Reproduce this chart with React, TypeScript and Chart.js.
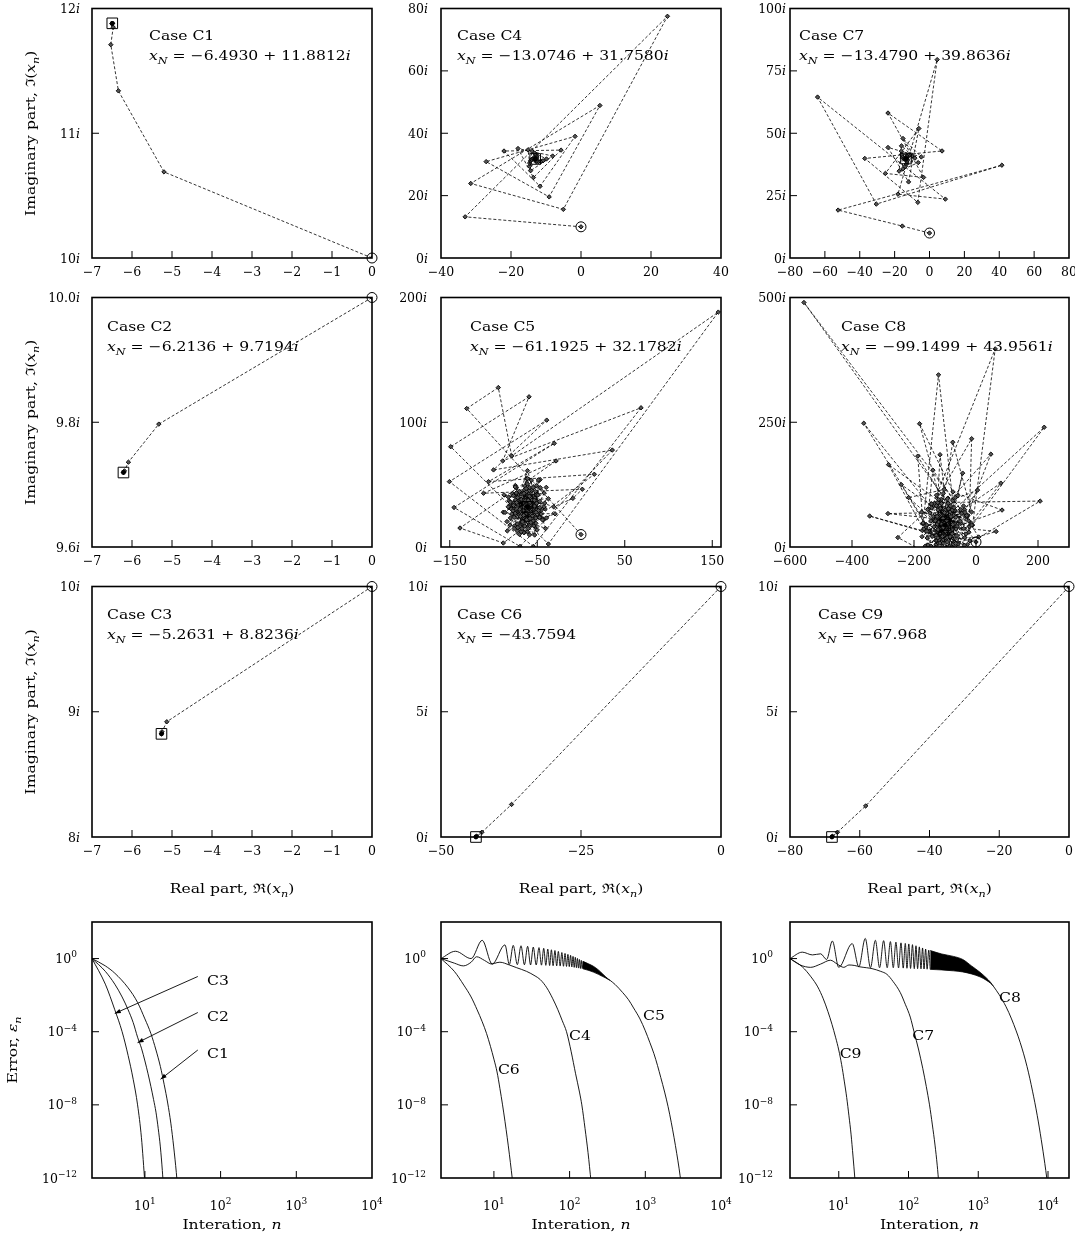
import React, { useEffect, useRef } from 'react';
import { Chart, registerables } from 'chart.js';
Chart.register(...registerables);

// ---------------- DATA ----------------
// Trajectories: [real part, imaginary part]
const C1_PTS = [[0, 10], [-5.2, 10.69], [-6.34, 11.34], [-6.53, 11.71], [-6.47, 11.85], [-6.5, 11.876], [-6.492, 11.882], [-6.4935, 11.881], [-6.493, 11.8812]];
const C2_PTS = [[0, 10], [-5.33, 9.797], [-6.09, 9.736], [-6.19, 9.722], [-6.21, 9.7198], [-6.2136, 9.7194]];
const C3_PTS = [[0, 10], [-5.13, 8.92], [-5.25, 8.84], [-5.262, 8.825], [-5.2631, 8.8236]];
const C4_PTS = [[0, 10], [-33.1, 13.2], [24.7, 77.5], [-5.05, 15.6], [-31.5, 23.9], [5.4, 48.9], [-9.1, 19.6], [-27.1, 30.9], [-1.7, 39.0], [-11.7, 23.0], [-22.0, 34.3], [-5.7, 34.6], [-13.6, 25.8], [-18.0, 35.1], [-8.1, 32.7], [-14.4, 28.0], [-15.13, 34.71], [-9.87, 31.76], [-14.73, 29.38], [-13.96, 34.2], [-10.85, 31.16], [-14.68, 30.41], [-13.24, 33.65], [-11.6, 30.91], [-14.43, 31.13], [-12.84, 33.09], [-12.22, 30.91], [-14.1, 31.58], [-12.67, 32.62], [-12.65, 31.02], [-13.82, 31.83], [-12.65, 32.26], [-12.93, 31.23], [-13.49, 31.91], [-12.78, 31.96], [-13.07, 31.51], [-13.19, 31.85], [-13.0746, 31.758]];
const C5_PTS = [[0, 10],
  [-130.6, 111], [-94.5, 127.8], [-79.2, 73], [156.9, 188.3], [-37.3, 2.4],
  [-148.9, 80.4], [-59.4, 120.4], [-89.5, 69], [68.6, 111.6], [-54.5, 0.5],
  [-150.4, 52.4], [-39.2, 101.7], [-100, 61.8], [35.8, 77.7], [-69.7, 0.5],
  [-145.1, 31.7], [-30.5, 83.1], [-105.7, 52.4], [15.2, 58.3], [-88.8, 3.2],
  [-138.3, 15.2], [-28.5, 69], [-111.4, 43.1], [1.5, 46.3], [-9.3, 39],
  [-31.2, 32.2], [-74.5, 42.8], [-58.9, 9.7], [-53.9, 40.5], [-88.8, 27.9], [-42.6, 21.9], [-63.3, 38.9], [-72.7, 12.9], [-47.1, 36.6], [-88, 41.8],
  [-52.7, 16.4], [-58.2, 40.5], [-84.6, 20.4], [-45.6, 29.2], [-75, 49.3], [-62, 27], [-39.7, 47.8], [-80.2, 32.9], [-52, 24.2], [-62.3, 54.8],
  [-76, 16.9], [-52.3, 33.2], [-78.4, 42.7], [-57.5, 17.7], [-46.7, 54], [-71.7, 29.3], [-39.4, 23.3], [-66.6, 43.4], [-70.4, 10.1], [-55, 35],
  [-82.4, 37.1], [-51.5, 19], [-56.8, 53.6], [-70.7, 25.8], [-41.3, 30.7], [-64.6, 35.4], [-61.2, 12.2], [-51.1, 41.8], [-80.1, 30.7], [-53.3, 26.9],
  [-29.7, 26.6], [-84.2, 12.9], [-61.2, 61.2], [-40.5, 14.8], [-86.8, 27.7], [-48.7, 53.8], [-53.0, 9.6], [-82.8, 40.0], [-42.1, 43.2], [-64.8, 11.5], [-74.0, 47.5], [-42.2, 32.2], [-72.8, 18.4], [-64.1, 48.9], [-47.3, 24.2], [-75.3, 27.0], [-56.4, 45.3], [-54.7, 20.9], [-73.0, 34.3], [-52.8, 39.2], [-61.2, 22.2], [-68.2, 38.1], [-52.9, 33.6], [-65.0, 25.5], [-63.6, 38.8],
  [-61.2, 54.8], [-51.7, 23.2], [-81.1, 33.7], [-54.8, 36.4], [-65.4, 11.6], [-70.3, 44.6], [-50.6, 29.7], [-80.7, 23.3], [-59.5, 36.3], [-53.9, 16.9],
  [-73, 37], [-37.3, 38.7], [-65.7, 25.4], [-64.6, 45.8], [-44, 21.7], [-68.1, 31.4], [-46.4, 47.5], [-60.7, 21.7], [-73.9, 43.3], [-57.2, 32],
  [-81.1, 17.6], [-59.2, 45.1], [-55.5, 25.1], [-80.7, 35.9], [-56, 34.8], [-68.4, 12.3], [-66.7, 42.4], [-45.5, 26.5], [-69.6, 29.5], [-51, 49.2],
  [-58.3, 22.9], [-77.2, 41.1], [-56.3, 32.9], [-76.4, 14.9], [-62.4, 44.3], [-55.3, 27.5], [-82.2, 32.2], [-49.4, 41.6], [-62.2, 21.8], [-75.2, 48.1],
  [-54.3, 31.1], [-76.4, 23.8], [-58.6, 40.6], [-50.1, 13.7], [-75.3, 36.6], [-55.6, 34.2], [-69.7, 16.4], [-65.1, 43], [-53.4, 28.3], [-77.8, 29],
  [-83.2, 32.2], [-56.8, 28.7], [-62.7, 46.9], [-68.5, 23.9], [-41.5, 35.2], [-64.6, 34.1], [-57.3, 19.6], [-57.0, 39.1], [-79.1, 26.5], [-49.2, 27.8],
  [-64.2, 37.7], [-67.5, 14.8], [-51.7, 37], [-76.8, 35.2], [-59.5, 30.0], [-58.8, 47.7], [-68.9, 26.6], [-47.2, 31.6], [-64.7, 35.3], [-60.3, 14.8],
  [-56.0, 37.5], [-73.1, 30.8], [-47.3, 23.7], [-62.5, 37.3], [-72.2, 15.6], [-50.7, 35.1], [-74.8, 37.7], [-59.7, 29.0], [-54.7, 47.7], [-69.2, 28.6],
  [-48.6, 29.2], [-65.0, 37.3], [-64.3, 16.8], [-53.3, 37.5], [-77.1, 33.4], [-59.2, 30.3], [-61.2, 50.5], [-69.3, 24.5], [-53.2, 32.8], [-72.3, 39.6],
  [-60.3, 27.9], [-52.1, 44.6], [-69.9, 30.2], [-51.4, 27.8], [-63.2, 37.1], [-66.9, 20.1], [-57.6, 33.7], [-73.6, 35.6], [-57.7, 26.9], [-59.0, 40.7],
  [-55.2, 30.0], [-66.2, 29.3], [-60.3, 37.4], [-58.1, 28.5], [-65.5, 32.2], [-58.7, 35.2], [-60.6, 28.7], [-63.9, 33.7], [-58.6, 33.1], [-62.0, 29.8], [-62.3, 34.1], [-59.3, 31.8], [-62.4, 31.1], [-61.2, 33.5], [-60.4, 31.5], [-62.0, 32.0], [-60.9, 32.7], [-61.05, 31.8], [-61.38, 32.25], [-61.1925, 32.1782]];
const C6_PTS = [[0, 10], [-37.4, 1.3], [-42.7, 0.19], [-43.6, 0.03], [-43.75, 0.005], [-43.7594, 0]];
const C7_PTS = [[0, 10], [-15.6, 12.8], [-52.4, 19.2], [41.5, 37.2], [-30.5, 21.6], [-64.2, 64.5], [9.1, 23.6], [-18.1, 25.6], [4.4, 79.5], [-6.7, 22.3], [-37.1, 39.9], [7.2, 42.9], [-23.8, 58.1], [-3.4, 32.3], [-25.3, 33.9], [-6.1, 51.9], [-12, 30.5], [-23.8, 44.3], [-4.7, 40.5], [-15.2, 47.9], [-6.46, 38.24], [-17.42, 34.82], [-16.07, 44.94], [-8.38, 40.04], [-15.24, 35.72], [-16.16, 42.83], [-10.04, 40.91], [-13.93, 36.69], [-15.83, 41.39], [-11.36, 41.18], [-13.21, 37.68], [-15.29, 40.45], [-12.32, 41.1], [-12.92, 38.47], [-14.78, 39.93], [-12.96, 40.83], [-12.91, 39.1], [-14.26, 39.69], [-13.33, 40.49], [-13.09, 39.55], [-13.84, 39.68], [-13.49, 40.16], [-13.3, 39.78], [-13.479, 39.8636]];
const C8_PTS = [[0, 10],
  [-555, 490], [-11, 44], [62, 397], [-143.2, 78.5], [-362, 248], [-92, -23.7], [220, 240], [-71.6, 74.3], [-121, 345], [-172.9, 32.9],
  [-343, 62], [-27.3, 5.2], [207, 92], [-113.2, 89.2], [-282, 165], [-131.3, -8.8], [-75, 210], [-14.4, 70.2], [-284, 67], [-136, 57],
  [48, 186], [-71.5, -6], [-182, 247], [-74.3, 110.5], [84, 74], [-142.3, 22.7], [-241, 125], [-22.9, 29.7], [-14, 217], [-134.6, 87.2],
  [-252, 19], [-110.3, -28.4], [80, 128], [-72.2, 63.1], [-188, 182], [-170.9, 46.7], [65, 31], [-58, 9.1], [-217, 99], [-102.7, 115.3],
  [-116, 185], [-129.9, 12.7], [8.5, 20], [-23.7, 52.5], [-139, 154], [-153.1, 76.2], [5, 114], [-92.5, 19.1], [-43, 148], [-59, 102.9],
  [-150.5, 30.2], [-19.3, 12.4], [-115.1, 77], [-122.9, -11.9], [-45.8, 67.6], [-123.2, 49.5], [-59.3, -9], [-90, 87.5], [-164, 1.6], [-61.2, 41.2],
  [-145, 86.6], [-99, -29.1], [-67.9, 72.8], [-162.7, 39.3], [-37.1, 3.6], [-104.6, 70.8], [-129.1, 3.9], [-29.4, 59.9], [-138, 61.3], [-70.3, -23.1],
  [-75.3, 92.7], [-117.1, 36.8], [-32.2, 26.1], [-124, 80.8], [-106.8, 14.1],
  [-159, 44], [-76.9, 26.8], [-105.5, 107.5], [-126.4, 13.7], [-79.3, 47], [-156.3, 75], [-85.5, 1.3], [-82.8, 70.4], [-174.2, 20.7], [-75.9, 35.9],
  [-123.5, 88.7], [-111.6, 9.9], [-36.6, 74.6], [-113.6, 46.8], [-70.3, 9.2], [-90.6, 97.9], [-128.1, 23.2], [-21.1, 41.1], [-118.8, 60.8], [-96.6, -2.7],
  [-69.4, 74], [-168.4, 36.2], [-81, 33.3], [-112.4, 95.4], [-119, 14.6], [-26.5, 63.4], [-128.9, 55.9], [-77.2, -0.8], [-82.6, 82.4], [-157.5, 18.1],
  [-81.6, 40], [-128, 82.7], [-106.7, 7.2], [-40.3, 82.3], [-124.9, 45.9], [-58.4, 6.4], [-99, 74.6], [-145, 1.4], [-49.2, 47.7], [-122.8, 59.5],
  [-86.5, -16.3], [-76.4, 74.1], [-153.1, 31.7], [-77.7, 34.6], [-120.9, 95.1], [-116.6, 7.9], [-35.6, 69.2], [-131.4, 52.7], [-73, 5.7], [-90.4, 77.2],
  [-14, 44], [-175.4, 70], [-42.7, -2.6], [-127.6, 103.8], [-101.7, -18.3], [-66.9, 99.1], [-154.7, 3.9], [-29.9, 63], [-170.9, 48], [-36.6, 18.6], [-143.4, 86.3], [-79.4, -7.2], [-92.1, 96.5], [-130, -0.8], [-49.4, 75], [-157.9, 31.4], [-39.6, 37.3], [-148.7, 67.9], [-65.5, 7.1], [-111.4, 86.9], [-108.4, 1.4], [-70.7, 78.9], [-141.3, 21.2], [-50.9, 51.5], [-145.9, 52], [-61.3, 22.9], [-122.9, 74.5], [-92.3, 10], [-88.8, 76.6], [-123.1, 18.4], [-65.2, 59.6], [-135.7, 40.4], [-64.4, 36.1], [-125.4, 61.1], [-83.5, 20.7], [-101.7, 68.7], [-108.3, 21.2], [-80.6, 60.9], [-122.4, 34.9], [-75, 45], [-119.7, 50], [-84.4, 33.1], [-106.3, 57.2], [-98.7, 32], [-94.5, 52.9], [-105.4, 38.9], [-93.4, 45.8], [-102, 44], [-99.1499, 43.9561]];
const C9_PTS = [[0, 10], [-58.3, 1.24], [-66.4, 0.19], [-67.8, 0.03], [-67.95, 0.005], [-67.968, 0]];

// Error curves: [iteration n, log10(error)]
const E_C1 = [[2, 0], [3, -0.4], [4, -0.8], [6, -1.6], [8, -2.4], [10, -3.3], [12, -4.1], [14, -5.0], [16, -5.9], [18, -6.9], [20, -7.9], [22, -9.0], [24, -10.3], [26, -11.7], [27, -12.5]];
const E_C2 = [[2, 0], [3, -0.7], [4, -1.4], [5, -2.1], [6, -2.8], [7, -3.5], [8, -4.3], [9, -4.9], [10, -5.6], [11, -6.3], [12, -7.0], [13, -7.7], [14, -8.4], [15, -9.3], [16, -10.3], [17, -11.6], [17.5, -12.4]];
const E_C3 = [[2, 0], [3, -1.4], [4, -2.8], [5, -4.0], [6, -5.3], [7, -6.6], [8, -8.0], [9, -9.8], [10, -12.3]];
const E_C4 = [[2, 0], [3, -0.25], [3.95, -0.4], [5, -0.2], [5.9, 0.1], [7.5, -0.1], [9.35, -0.3], [11, -0.22], [12, -0.2], [16, -0.35], [20, -0.5], [27, -0.7], [35, -0.95], [41, -1.15], [50, -1.6], [60, -2.2], [70, -2.8], [80, -3.4], [91, -4.0], [105, -5.1], [120, -6.3], [135, -7.3], [145, -8.0], [160, -9.3], [175, -10.6], [192, -12.2]];
const E_C5_OSC = [[2, 0], [3.1, 0.4], [5, 0.0], [7, 1.0], [9.5, -0.3], [14, 0.75], [16, -0.32], [18, 0.72], [20.4, -0.33], [22.8, 0.7], [25.3, -0.34], [27.9, 0.67], [30.5, -0.35], [33.1, 0.63], [36.2, -0.35], [39.4, 0.6], [42.5, -0.36], [45.5, 0.56], [48.5, -0.37], [51.5, 0.52], [54.5, -0.38], [57.5, 0.48], [60.5, -0.39], [64, 0.44], [67.5, -0.4], [71, 0.39], [75, -0.41], [79, 0.33], [83, -0.42], [87, 0.28], [91, -0.43], [95, 0.23], [99, -0.44], [103, 0.18], [107, -0.46], [111, 0.12], [115, -0.48], [119, 0.07], [123, -0.5], [127, 0.01], [131, -0.52], [135, -0.05], [139, -0.54], [143, -0.1], [147, -0.55], [150, -0.15]];
const E_C5_BAND_HI = [[150, -0.15], [180, -0.3], [206, -0.42], [240, -0.62], [270, -0.82], [300, -1.0], [320, -1.1], [345, -1.2]];
const E_C5_BAND_LO = [[150, -0.56], [180, -0.65], [206, -0.74], [240, -0.86], [270, -0.97], [300, -1.06], [320, -1.13], [345, -1.2]];
const E_C5_TAIL = [[345, -1.2], [400, -1.42], [500, -1.85], [600, -2.25], [700, -2.7], [850, -3.3], [1000, -3.95], [1150, -4.6], [1300, -5.2], [1450, -5.85], [1600, -6.5], [1800, -7.3], [2000, -8.1], [2200, -8.95], [2400, -9.8], [2600, -10.65], [2800, -11.5], [2950, -12.2]];
const E_C6 = [[2, 0], [3, -0.7], [4, -1.45], [5, -2.1], [6, -2.8], [7, -3.45], [8, -4.1], [9, -4.8], [10, -5.5], [11, -6.2], [12, -7.1], [13, -8.0], [14, -8.9], [15, -9.8], [16, -10.7], [17, -11.6], [18, -12.5]];
const E_C7 = [[2, 0], [2.8, -0.35], [3.95, -0.48], [5.5, -0.3], [7.6, -0.09], [9.5, -0.3], [11.8, -0.48], [14, -0.35], [17, -0.38], [20, -0.45], [25, -0.5], [30, -0.55], [40, -0.7], [49, -0.86], [60, -1.25], [76, -1.85], [90, -2.5], [106, -3.2], [120, -4.0], [140, -5.0], [160, -6.0], [180, -7.0], [200, -8.0], [220, -9.1], [240, -10.2], [258, -11.3], [272, -12.3]];
const E_C8_OSC = [[2, 0], [3, 0.35], [4.2, 0.2], [5.5, 0.26], [6.7, -0.05], [8.1, 0.96], [10, -0.48], [15.6, 0.82], [19.4, -0.45], [24, 1.1], [28.5, -0.5], [33.5, 1.0], [38.5, -0.5], [44, 0.98], [49.5, -0.5], [55, 0.93], [60.5, -0.5], [66, 0.9], [72, -0.51], [78, 0.86], [84, -0.52], [90, 0.83], [95, -0.53], [101, 0.8], [107, -0.54], [114, 0.76], [121, -0.55], [128, 0.7], [135, -0.55], [143, 0.64], [151, -0.56], [159, 0.58], [167, -0.57], [176, 0.52], [185, -0.58], [195, 0.46], [205, -0.59]];
const E_C8_BAND_HI = [[205, 0.44], [300, 0.25], [440, 0.12], [600, -0.05], [800, -0.4], [1060, -0.75], [1300, -1.05], [1500, -1.3], [1640, -1.5]];
const E_C8_BAND_LO = [[205, -0.59], [300, -0.62], [440, -0.67], [600, -0.73], [800, -0.84], [1060, -1.0], [1300, -1.18], [1500, -1.35], [1640, -1.5]];
const E_C8_TAIL = [[1640, -1.5], [2000, -1.98], [2500, -2.63], [3000, -3.3], [4000, -4.6], [5000, -5.9], [6000, -7.25], [7000, -8.57], [8000, -9.9], [9000, -11.2], [9600, -12.0], [10000, -12.5]];
const E_C9 = [[2, 0], [3, -0.45], [4, -1.0], [5, -1.55], [6, -2.2], [7, -2.9], [8, -3.6], [9, -4.3], [10, -5.0], [11, -5.8], [12, -6.7], [13, -7.6], [14, -8.6], [15, -9.6], [16, -10.8], [17, -12.0], [18, -13.2]];

// Tick values / labels
const X_TICKS_C123 = [-7, -6, -5, -4, -3, -2, -1, 0];
const X_TICKS_C4 = [-40, -20, 0, 20, 40];
const X_TICKS_C5 = [-150, -50, 50, 150];
const X_TICKS_C6 = [-50, -25, 0];
const X_TICKS_C7 = [-80, -60, -40, -20, 0, 20, 40, 60, 80];
const X_TICKS_C8 = [-600, -400, -200, 0, 200];
const X_TICKS_C9 = [-80, -60, -40, -20, 0];
const Y_TICKS_C1 = [10, 11, 12];
const Y_TICKS_C2 = [9.6, 9.8, 10.0];
const Y_LABELS_C2 = ['9.6', '9.8', '10.0'];
const Y_TICKS_C3 = [8, 9, 10];
const Y_TICKS_C4 = [0, 20, 40, 60, 80];
const Y_TICKS_C5 = [0, 100, 200];
const Y_TICKS_C69 = [0, 5, 10];
const Y_TICKS_C7 = [0, 25, 50, 75, 100];
const Y_TICKS_C8 = [0, 250, 500];
const ERR_X_TICKS = [10, 100, 1000, 10000];
const ERR_X_EXP = ['1', '2', '3', '4'];
const ERR_Y_TICKS = [1, 1e-4, 1e-8, 1e-12];
const ERR_Y_EXP = ['0', '−4', '−8', '−12'];

// ---------------- LAYOUT ----------------
const PLOT_LEFT = [92, 441, 790];
const PLOT_W = [280, 280, 279];
const ROW_TOP = [8, 297, 586, 922];
const ROW_H = [250, 250, 251, 256];
const PADL = 92, PADT = 8, PADR = 24, PADB = 64;

const FONT = '"DejaVu Serif", "Liberation Serif", serif';
const TICK_SIZE = 12.5;
const TEXT_SIZE = 13;
const TEXT_SX = 1.2;

type Seg = { t: string; it?: boolean; sub?: boolean; sup?: boolean };

function segFont(s: Seg, size: number) {
  const sz = s.sub || s.sup ? size * 0.72 : size;
  return `${s.it ? 'italic ' : ''}${sz}px ${FONT}`;
}
function richWidth(ctx: any, segs: Seg[], size: number) {
  let w = 0;
  for (const s of segs) { ctx.font = segFont(s, size); w += ctx.measureText(s.t).width; }
  return w;
}
function drawRich(ctx: any, segs: Seg[], x: number, y: number, size: number, align: string, sx = 1, rot = 0) {
  ctx.save();
  ctx.translate(x, y);
  if (rot) ctx.rotate(rot);
  ctx.scale(sx, 1);
  const w = richWidth(ctx, segs, size);
  let cx = align === 'left' ? 0 : align === 'center' ? -w / 2 : -w;
  const base = size * 0.36;
  ctx.textBaseline = 'alphabetic';
  ctx.textAlign = 'left';
  ctx.fillStyle = '#000';
  for (const s of segs) {
    ctx.font = segFont(s, size);
    const dy = s.sub ? size * 0.3 : s.sup ? -size * 0.45 : 0;
    ctx.fillText(s.t, cx, base + dy);
    cx += ctx.measureText(s.t).width;
  }
  ctx.restore();
}

const plain = (s: string): Seg[] => [{ t: s }];
const imag = (s: string): Seg[] => [{ t: s }, { t: 'i', it: true }];
const pow10 = (e: string): Seg[] => [{ t: '10' }, { t: e, sup: true }];
const fmtMinus = (v: number) => (v < 0 ? '−' + Math.abs(v) : String(v));
const xN = (val: string, imPart?: string): Seg[] => {
  const s: Seg[] = [{ t: 'x', it: true }, { t: 'N', it: true, sub: true }, { t: ' = ' + val }];
  if (imPart) { s.push({ t: ' + ' + imPart }); s.push({ t: 'i', it: true }); }
  return s;
};

const Y_TITLE: Seg[] = [{ t: 'Imaginary part, ' }, { t: 'ℑ' }, { t: '(' }, { t: 'x', it: true }, { t: 'n', it: true, sub: true }, { t: ')' }];
const X_TITLE: Seg[] = [{ t: 'Real part, ' }, { t: 'ℜ' }, { t: '(' }, { t: 'x', it: true }, { t: 'n', it: true, sub: true }, { t: ')' }];
const E_Y_TITLE: Seg[] = [{ t: 'Error, ' }, { t: 'ε', it: true }, { t: 'n', it: true, sub: true }];
const E_X_TITLE: Seg[] = [{ t: 'Interation, ' }, { t: 'n', it: true }];

function trajSets(arr: number[][]) {
  const p = arr.map(([x, y]) => ({ x, y }));
  const first = p[0], last = p[p.length - 1];
  return [
    { data: [last], showLine: false, pointStyle: 'rect', pointRadius: 7.5, pointBorderWidth: 1, pointBorderColor: '#000', pointBackgroundColor: 'rgba(0,0,0,0)', clip: false },
    { data: [last], showLine: false, pointStyle: 'circle', pointRadius: 2.4, pointBorderWidth: 0, pointBackgroundColor: '#000', clip: false },
    { data: [first], showLine: false, pointStyle: 'circle', pointRadius: 5, pointBorderWidth: 1, pointBorderColor: '#000', pointBackgroundColor: 'rgba(0,0,0,0)', clip: false },
    { data: p, showLine: true, borderColor: '#000', borderWidth: 0.8, borderDash: [3, 2], pointStyle: 'rectRot', pointRadius: 2.2, pointBorderWidth: 0.9, pointBorderColor: '#000', pointBackgroundColor: '#555', tension: 0 },
  ];
}
const toErr = (arr: number[][]) => arr.map(([n, lg]) => ({ x: n, y: Math.pow(10, lg) }));
function errSet(arr: number[][]) {
  return { data: toErr(arr), showLine: true, borderColor: '#000', borderWidth: 0.9, pointRadius: 0, cubicInterpolationMode: 'monotone', fill: false };
}
// dense oscillation band: upper edge filled down to the lower edge
function bandSets(hi: number[][], lo: number[][]) {
  return [
    { data: toErr(hi), showLine: true, borderColor: '#000', borderWidth: 0.8, pointRadius: 0, cubicInterpolationMode: 'monotone', fill: '+1', backgroundColor: '#000' },
    { data: toErr(lo), showLine: true, borderColor: '#000', borderWidth: 0.8, pointRadius: 0, cubicInterpolationMode: 'monotone', fill: false },
  ];
}

interface Panel {
  key: string; col: number; row: number; log?: boolean;
  x: [number, number]; y: [number, number];
  xTicks: number[]; xLabels: Seg[][]; yTicks: number[]; yLabels: Seg[][];
  xGap: number; yGap: number;
  datasets: any[];
  notes?: { segs: Seg[]; dx: number; dy: number }[];
  dnotes?: { segs: Seg[]; n: number; lg: number }[];
  arrows?: { n1: number; lg1: number; n2: number; lg2: number }[];
  yTitle?: Seg[]; yTitleDx?: number; xTitle?: Seg[]; xTitleDy?: number;
}

const trajNotes = (name: string, val: Seg[], dx: number, dy: number) => [
  { segs: plain('Case ' + name), dx, dy },
  { segs: val, dx, dy: dy + 20 },
];

const PANELS: Panel[] = [
  { key: 'C1', col: 0, row: 0, x: [-7, 0], y: [10, 12], xTicks: X_TICKS_C123, xLabels: X_TICKS_C123.map((v) => plain(fmtMinus(v))), yTicks: Y_TICKS_C1, yLabels: Y_TICKS_C1.map((v) => imag(String(v))), xGap: 13, yGap: 12, datasets: trajSets(C1_PTS), notes: trajNotes('C1', xN('−6.4930', '11.8812'), 57, 27), yTitle: Y_TITLE, yTitleDx: 62 },
  { key: 'C4', col: 1, row: 0, x: [-40, 40], y: [0, 80], xTicks: X_TICKS_C4, xLabels: X_TICKS_C4.map((v) => plain(fmtMinus(v))), yTicks: Y_TICKS_C4, yLabels: Y_TICKS_C4.map((v) => imag(String(v))), xGap: 13, yGap: 13, datasets: trajSets(C4_PTS), notes: trajNotes('C4', xN('−13.0746', '31.7580'), 16, 27) },
  { key: 'C7', col: 2, row: 0, x: [-80, 80], y: [0, 100], xTicks: X_TICKS_C7, xLabels: X_TICKS_C7.map((v) => plain(fmtMinus(v))), yTicks: Y_TICKS_C7, yLabels: Y_TICKS_C7.map((v) => imag(String(v))), xGap: 13, yGap: 4, datasets: trajSets(C7_PTS), notes: trajNotes('C7', xN('−13.4790', '39.8636'), 9, 27) },
  { key: 'C2', col: 0, row: 1, x: [-7, 0], y: [9.6, 10.0], xTicks: X_TICKS_C123, xLabels: X_TICKS_C123.map((v) => plain(fmtMinus(v))), yTicks: Y_TICKS_C2, yLabels: Y_LABELS_C2.map((s) => imag(s)), xGap: 13, yGap: 12, datasets: trajSets(C2_PTS), notes: trajNotes('C2', xN('−6.2136', '9.7194'), 15, 28.7), yTitle: Y_TITLE, yTitleDx: 62 },
  { key: 'C5', col: 1, row: 1, x: [-160, 160], y: [0, 200], xTicks: X_TICKS_C5, xLabels: X_TICKS_C5.map((v) => plain(fmtMinus(v))), yTicks: Y_TICKS_C5, yLabels: Y_TICKS_C5.map((v) => imag(String(v))), xGap: 13, yGap: 14, datasets: trajSets(C5_PTS), notes: trajNotes('C5', xN('−61.1925', '32.1782'), 29, 28.7) },
  { key: 'C8', col: 2, row: 1, x: [-600, 300], y: [0, 500], xTicks: X_TICKS_C8, xLabels: X_TICKS_C8.map((v) => plain(fmtMinus(v))), yTicks: Y_TICKS_C8, yLabels: Y_TICKS_C8.map((v) => imag(String(v))), xGap: 13, yGap: 4, datasets: trajSets(C8_PTS), notes: trajNotes('C8', xN('−99.1499', '43.9561'), 51, 28.7) },
  { key: 'C3', col: 0, row: 2, x: [-7, 0], y: [8, 10], xTicks: X_TICKS_C123, xLabels: X_TICKS_C123.map((v) => plain(fmtMinus(v))), yTicks: Y_TICKS_C3, yLabels: Y_TICKS_C3.map((v) => imag(String(v))), xGap: 13, yGap: 12, datasets: trajSets(C3_PTS), notes: trajNotes('C3', xN('−5.2631', '8.8236'), 15, 28), yTitle: Y_TITLE, yTitleDx: 62, xTitle: X_TITLE, xTitleDy: 51 },
  { key: 'C6', col: 1, row: 2, x: [-50, 0], y: [0, 10], xTicks: X_TICKS_C6, xLabels: X_TICKS_C6.map((v) => plain(fmtMinus(v))), yTicks: Y_TICKS_C69, yLabels: Y_TICKS_C69.map((v) => imag(String(v))), xGap: 13, yGap: 13, datasets: trajSets(C6_PTS), notes: trajNotes('C6', xN('−43.7594'), 16, 28), xTitle: X_TITLE, xTitleDy: 51 },
  { key: 'C9', col: 2, row: 2, x: [-80, 0], y: [0, 10], xTicks: X_TICKS_C9, xLabels: X_TICKS_C9.map((v) => plain(fmtMinus(v))), yTicks: Y_TICKS_C69, yLabels: Y_TICKS_C69.map((v) => imag(String(v))), xGap: 13, yGap: 12, datasets: trajSets(C9_PTS), notes: trajNotes('C9', xN('−67.968'), 28, 28), xTitle: X_TITLE, xTitleDy: 51 },
  { key: 'E1', col: 0, row: 3, log: true, x: [2, 10000], y: [1e-12, 100], xTicks: ERR_X_TICKS, xLabels: ERR_X_EXP.map(pow10), yTicks: ERR_Y_TICKS, yLabels: ERR_Y_EXP.map(pow10), xGap: 27, yGap: 15, datasets: [errSet(E_C1), errSet(E_C2), errSet(E_C3)], dnotes: [{ segs: plain('C3'), n: 66, lg: -1.19 }, { segs: plain('C2'), n: 66, lg: -3.15 }, { segs: plain('C1'), n: 66, lg: -5.18 }], arrows: [{ n1: 50, lg1: -0.98, n2: 4.0, lg2: -3.0 }, { n1: 50, lg1: -2.95, n2: 8.0, lg2: -4.6 }, { n1: 50, lg1: -5.0, n2: 16.1, lg2: -6.6 }], yTitle: E_Y_TITLE, yTitleDx: 80, xTitle: E_X_TITLE, xTitleDy: 46 },
  { key: 'E2', col: 1, row: 3, log: true, x: [2, 10000], y: [1e-12, 100], xTicks: ERR_X_TICKS, xLabels: ERR_X_EXP.map(pow10), yTicks: ERR_Y_TICKS, yLabels: ERR_Y_EXP.map(pow10), xGap: 27, yGap: 15, datasets: [...bandSets(E_C5_BAND_HI, E_C5_BAND_LO), errSet(E_C5_OSC), errSet(E_C5_TAIL), errSet(E_C4), errSet(E_C6)], dnotes: [{ segs: plain('C6'), n: 11.3, lg: -6.08 }, { segs: plain('C4'), n: 98, lg: -4.18 }, { segs: plain('C5'), n: 931, lg: -3.09 }], xTitle: E_X_TITLE, xTitleDy: 46 },
  { key: 'E3', col: 2, row: 3, log: true, x: [2, 20000], y: [1e-12, 100], xTicks: ERR_X_TICKS, xLabels: ERR_X_EXP.map(pow10), yTicks: ERR_Y_TICKS, yLabels: ERR_Y_EXP.map(pow10), xGap: 27, yGap: 17, datasets: [...bandSets(E_C8_BAND_HI, E_C8_BAND_LO), errSet(E_C8_OSC), errSet(E_C8_TAIL), errSet(E_C7), errSet(E_C9)], dnotes: [{ segs: plain('C9'), n: 10.3, lg: -5.17 }, { segs: plain('C7'), n: 113, lg: -4.18 }, { segs: plain('C8'), n: 1980, lg: -2.14 }], xTitle: E_X_TITLE, xTitleDy: 46 },
];

function makeDecor(p: Panel) {
  return {
    id: 'decor' + p.key,
    afterDatasetsDraw(chart: any) {
      const ctx = chart.ctx;
      const { left, right, top, bottom } = chart.chartArea;
      const xs = chart.scales.x, ys = chart.scales.y;
      ctx.save();
      ctx.setLineDash([]);
      ctx.strokeStyle = '#000';
      ctx.lineWidth = 1.6;
      ctx.strokeRect(left, top, right - left, bottom - top);
      ctx.lineWidth = 1;
      ctx.beginPath();
      p.xTicks.forEach((v) => {
        const x = xs.getPixelForValue(v);
        if (x > left + 2 && x < right - 2) { ctx.moveTo(x, bottom); ctx.lineTo(x, bottom - 7); }
      });
      p.yTicks.forEach((v) => {
        const y = ys.getPixelForValue(v);
        if (y > top + 2 && y < bottom - 2) { ctx.moveTo(left, y); ctx.lineTo(left + 7, y); }
      });
      ctx.stroke();
      p.xTicks.forEach((v, i) => drawRich(ctx, p.xLabels[i], xs.getPixelForValue(v), bottom + p.xGap, TICK_SIZE, 'center'));
      p.yTicks.forEach((v, i) => drawRich(ctx, p.yLabels[i], left - p.yGap, ys.getPixelForValue(v), TICK_SIZE, 'right'));
      (p.notes || []).forEach((n) => drawRich(ctx, n.segs, left + n.dx, top + n.dy, TEXT_SIZE, 'left', TEXT_SX));
      (p.dnotes || []).forEach((n) => drawRich(ctx, n.segs, xs.getPixelForValue(n.n), ys.getPixelForValue(Math.pow(10, n.lg)), TEXT_SIZE, 'left', TEXT_SX));
      (p.arrows || []).forEach((a) => {
        const x1 = xs.getPixelForValue(a.n1), y1 = ys.getPixelForValue(Math.pow(10, a.lg1));
        const x2 = xs.getPixelForValue(a.n2), y2 = ys.getPixelForValue(Math.pow(10, a.lg2));
        const ang = Math.atan2(y2 - y1, x2 - x1);
        ctx.lineWidth = 0.9;
        ctx.beginPath(); ctx.moveTo(x1, y1); ctx.lineTo(x2, y2); ctx.stroke();
        ctx.beginPath();
        ctx.moveTo(x2, y2);
        ctx.lineTo(x2 - 6 * Math.cos(ang) + 2.2 * Math.sin(ang), y2 - 6 * Math.sin(ang) - 2.2 * Math.cos(ang));
        ctx.lineTo(x2 - 6 * Math.cos(ang) - 2.2 * Math.sin(ang), y2 - 6 * Math.sin(ang) + 2.2 * Math.cos(ang));
        ctx.closePath(); ctx.fillStyle = '#000'; ctx.fill();
      });
      if (p.yTitle) drawRich(ctx, p.yTitle, left - (p.yTitleDx || 62), (top + bottom) / 2, TEXT_SIZE, 'center', TEXT_SX, -Math.PI / 2);
      if (p.xTitle) drawRich(ctx, p.xTitle, (left + right) / 2, bottom + (p.xTitleDy || 50), TEXT_SIZE, 'center', TEXT_SX);
      ctx.restore();
    },
  };
}

function buildConfig(p: Panel): any {
  const scale = (axis: 'x' | 'y', range: [number, number], ticks: number[]) => ({
    type: p.log ? 'logarithmic' : 'linear',
    min: range[0], max: range[1],
    grid: { display: false }, border: { display: false },
    ticks: { display: false },
    afterBuildTicks: (s: any) => { s.ticks = ticks.map((v) => ({ value: v })); },
    afterFit: (s: any) => {
      if (axis === 'x') s.height = PADB; else s.width = PADL;
      s.paddingLeft = 0; s.paddingRight = 0; s.paddingTop = 0; s.paddingBottom = 0;
    },
  });
  return {
    type: 'scatter',
    data: { datasets: p.datasets },
    options: {
      responsive: false, maintainAspectRatio: false, animation: false, devicePixelRatio: 1, events: [],
      layout: { padding: { left: 0, top: PADT, right: PADR, bottom: 0 } },
      plugins: { legend: { display: false }, tooltip: { enabled: false } },
      scales: { x: scale('x', p.x, p.xTicks), y: scale('y', p.y, p.yTicks) },
    },
    plugins: [makeDecor(p)],
  };
}

function PanelChart({ p }: { p: Panel }) {
  const ref = useRef<HTMLCanvasElement>(null);
  const w = PADL + PLOT_W[p.col] + PADR;
  const h = PADT + ROW_H[p.row] + PADB;
  const left = PLOT_LEFT[p.col] - PADL;
  const top = ROW_TOP[p.row] - PADT;
  useEffect(() => {
    const chart = new Chart(ref.current as HTMLCanvasElement, buildConfig(p));
    return () => chart.destroy();
  }, []);
  return <canvas ref={ref} width={w} height={h} style={{ position: 'absolute', left, top, width: w, height: h }} />;
}

export default function App() {
  return (
    <div style={{ position: 'absolute', left: 0, top: 0, width: 1075, height: 1241, background: '#fff', overflow: 'hidden' }}>
      {PANELS.map((p) => <PanelChart key={p.key} p={p} />)}
    </div>
  );
}
